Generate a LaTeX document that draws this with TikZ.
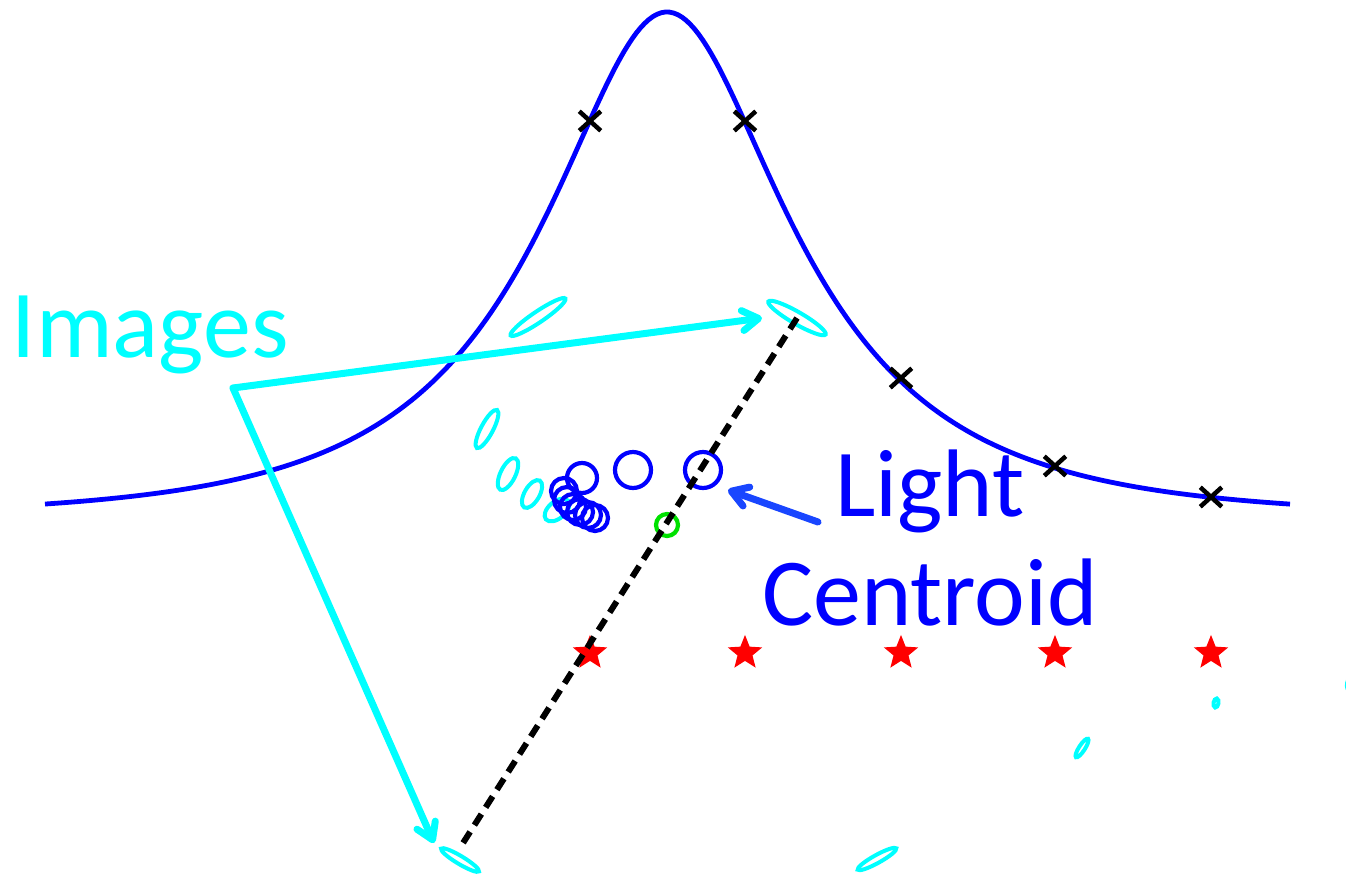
\documentclass[tikz,border=0pt]{standalone}
\usepackage{fontspec}
\setmainfont{Carlito}
\usetikzlibrary{arrows.meta,shapes.geometric,shapes.misc}
\definecolor{cy}{RGB}{0,255,255}
\definecolor{bl}{RGB}{0,0,255}
\definecolor{arrowblue}{RGB}{25,70,255}
\definecolor{gr}{RGB}{0,225,0}
\begin{document}
\begin{tikzpicture}[x=1pt,y=-1pt,
  cyell/.style={ellipse, draw=cy, line width=4pt, inner sep=0pt},
  bcirc/.style={circle, draw=bl, line width=4.2pt, inner sep=0pt},
  xmk/.style={cross out, draw=black, line width=4.5pt, minimum width=17pt, minimum height=15pt, inner sep=0pt},
  rstar/.style={star, star points=5, star point ratio=2.3, fill=red, draw=red, line width=3pt, minimum size=28pt, inner sep=0pt},
  shadowed/.style={preaction={draw=black!35, opacity=.4, transform canvas={shift={(1.5pt,-2.5pt)}}}},
  cyarrow/.style={cy, line width=7pt, line cap=round, line join=round, -{Straight Barb[length=16pt,width=20pt,round]}, shadowed},
  blarrow/.style={arrowblue, line width=7pt, line cap=round, line join=round, -{Straight Barb[length=16pt,width=20pt,round]}, shadowed},
  dashline/.style={black, line width=6pt, dash pattern=on 13pt off 8pt},
  lbl/.style={inner sep=0pt, outer sep=0pt, font=\fontsize{96}{115}\selectfont},
]
\useasboundingbox (0,0) rectangle (1346,879);
\fill[white] (0,0) rectangle (1346,879);
\clip (0,0) rectangle (1346,879);

% light curve
\draw[bl, line width=4.8pt] plot[variable=\t, domain=-622:623, samples=300]
  ({667+\t},{518-427.8*((((\t/259)^2+2.25)/(sqrt((\t/259)^2+0.25)*sqrt((\t/259)^2+4.25)))-1)});

% black x markers on the curve
\node[xmk] (x1) at (590,121) {};
\node[xmk] (x2) at (745,121) {};
\node[xmk] (x3) at (901,378) {};
\node[xmk] (x4) at (1055,466) {};
\node[xmk] (x5) at (1211,497) {};

% red stars
\node[rstar] (s1) at (590,653) {};
\node[rstar] (s2) at (745,653) {};
\node[rstar] (s3) at (901,653) {};
\node[rstar] (s4) at (1055,653) {};
\node[rstar] (s5) at (1211,653) {};

% cyan image ellipses
\node[cyell, minimum width=66pt, minimum height=11pt, rotate=34] (e1) at (538,317) {};
\node[cyell, minimum width=66pt, minimum height=12pt, rotate=-30] (e2) at (797,318) {};
\node[cyell, minimum width=43pt, minimum height=12pt, rotate=62] (e3) at (487,429) {};
\node[cyell, minimum width=35pt, minimum height=15pt, rotate=64] (e4) at (508,474) {};
\node[cyell, minimum width=31pt, minimum height=15pt, rotate=60] (e5) at (532,494) {};
\node[cyell, minimum width=29pt, minimum height=17pt, rotate=40] (e6) at (557,510) {};
\node[cyell, minimum width=44pt, minimum height=8pt, rotate=-31] (e7) at (460,860) {};
\node[cyell, minimum width=44pt, minimum height=8pt, rotate=29] (e8) at (877,859) {};
\node[cyell, minimum width=22pt, minimum height=6pt, rotate=57] (e9) at (1082,748) {};
\node[cyell, minimum width=9pt, minimum height=5pt, rotate=80] (e10) at (1216,703) {};
\node[cyell, minimum width=14pt, minimum height=8pt, rotate=80] (e11) at (1351,684) {};

% blue light circles
\node[bcirc, minimum size=36pt] (c1) at (633,470) {};
\node[bcirc, minimum size=36pt] (c2) at (703,470) {};
\node[bcirc, minimum size=30pt] (c3) at (582,478) {};
\node[bcirc, minimum size=26pt] (c4) at (564,491) {};
\node[bcirc, minimum size=26pt] (c5) at (567,500) {};
\node[bcirc, minimum size=26pt] (c6) at (573,507) {};
\node[bcirc, minimum size=26pt] (c7) at (580,512) {};
\node[bcirc, minimum size=26pt] (c8) at (588,515) {};
\node[bcirc, minimum size=26pt] (c9) at (595,518) {};

% green centroid
\node[circle, draw=gr, line width=4.2pt, inner sep=0pt, minimum size=22pt] (g) at (667,525) {};

% dashed line between images
\coordinate (dashend) at (463,843);
\draw[dashline] (e2.center) -- (dashend);

% labels
\node[lbl, text=cy, anchor=base west] (images) at (12,357) {Images};
\node[lbl, text=bl, anchor=base] (light) at (930,516) {Light};
\node[lbl, text=bl, anchor=base] (centroid) at (930,625) {Centroid};

% arrows
\coordinate (v) at (233,388);
\coordinate (tipA) at (762,318);
\coordinate (tipB) at (434,843);
\draw[cyarrow] (v) -- (tipB);
\draw[cyarrow] (v) -- (tipA);
\coordinate (lctail) at (818,522);
\coordinate (lctip) at (728,490);
\draw[blarrow] (lctail) -- (lctip);
\end{tikzpicture}
\end{document}
